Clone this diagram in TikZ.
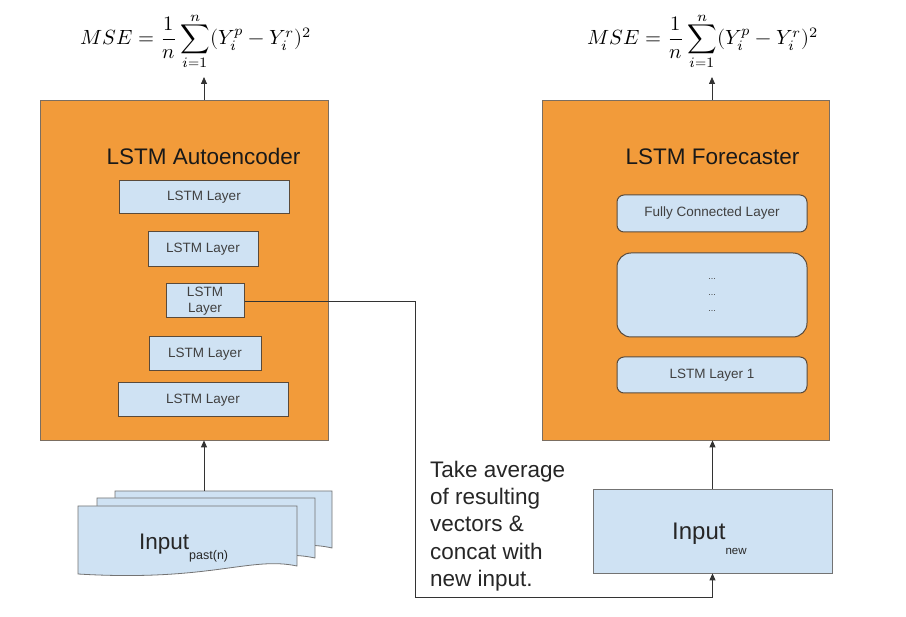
\documentclass[tikz,border=0pt]{standalone}
\usepackage{fontspec}
\setmainfont{Liberation Sans}
\usepackage{amsmath}
\usepackage{unicode-math}
\setmathfont{Latin Modern Math}
\usetikzlibrary{arrows.meta}
\definecolor{orng}{HTML}{F29B3A}
\definecolor{lblue}{HTML}{CFE2F3}
\definecolor{bord}{HTML}{5A4A3A}
\tikzset{
  big/.style={draw=bord!80, line width=0.8pt, fill=orng},
  layer/.style={draw=bord, line width=1pt, fill=lblue, font=\fontsize{13.5}{15}\selectfont, text=black!75, align=center, inner sep=0pt},
  rlayer/.style={layer, rounded corners=7pt},
  title/.style={font=\fontsize{22.5}{24}\selectfont, text=black!90},
  conn/.style={draw=black!80, line width=0.8pt},
  arr/.style={conn, -{Triangle[length=7pt,width=6pt]}},
  sheet/.style={draw=black!55, line width=0.8pt, fill=lblue},
  lbl/.style={text=black!85, inner sep=0pt},
}
\newcommand{\mseformula}{\resizebox{231pt}{!}{$MSE=\dfrac{1}{n}\displaystyle\sum_{i=1}^{n}(Y_i^p-Y_i^r)^2$}}
\begin{document}
\begin{tikzpicture}[x=1pt,y=-1pt]
\useasboundingbox (0,0) rectangle (906,617);
\fill[white] (0,0) rectangle (906,617);
% formulas
\node[inner sep=0pt] (f1) at (196,41) {\mseformula};
\node[inner sep=0pt] (f2) at (703,41) {\mseformula};
% big boxes
\node[big, minimum width=288pt, minimum height=340pt, inner sep=0pt] (ae) at (184,270) {};
\node[big, minimum width=287pt, minimum height=340pt, inner sep=0pt] (fc) at (685.5,270) {};
\node[title, anchor=base] (t1) at (203.5,165) {LSTM Autoencoder};
\node[title, anchor=base] (t2) at (712.5,165) {LSTM Forecaster};
% left layers
\node[layer, minimum width=170pt, minimum height=33pt] (l1) at (204,197) {LSTM Layer};
\node[layer, minimum width=110pt, minimum height=35pt] (l2) at (203,249.5) {LSTM Layer};
\node[layer, minimum width=78pt, minimum height=34pt, font=\fontsize{13.5}{16}\selectfont] (l3) at (205,301) {LSTM\\Layer};
\node[layer, minimum width=112pt, minimum height=34pt] (l4) at (205,354) {LSTM Layer};
\node[layer, minimum width=170pt, minimum height=34pt] (l5) at (203,400) {LSTM Layer};
% right layers
\node[rlayer, minimum width=190pt, minimum height=37pt] (r1) at (712,213.5) {Fully Connected Layer};
\node[rlayer, rounded corners=14pt, minimum width=190pt, minimum height=84pt, font=\fontsize{9}{16}\selectfont] (r2) at (712,295) {...\\...\\...};
\node[rlayer, minimum width=190pt, minimum height=36pt] (r3) at (712,375) {LSTM Layer 1};
% input past (stacked sheets)
\path[sheet] (115,491) -- (332,491) -- (332,548) .. controls (290,538) and (250,560) .. (115,552) -- cycle;
\path[sheet] (97,498) -- (315,498) -- (315,558) .. controls (270,548) and (230,570) .. (97,562) -- cycle;
\path[sheet] (78,506) -- (297,506) -- (297,566) .. controls (250,556) and (210,582) .. (78,574) -- cycle;
\node[lbl, anchor=base west, font=\fontsize{22.5}{24}\selectfont] (inp) at (139,550) {Input\raisebox{-10pt}{\fontsize{12.5}{13}\selectfont past(n)}};
\coordinate (inptop) at (204,491);
% input new
\node[draw=black!55, line width=0.8pt, fill=lblue, minimum width=239pt, minimum height=84pt, inner sep=0pt] (inn) at (712.5,531) {};
\node[lbl, anchor=base west, font=\fontsize{24}{26}\selectfont] (innt) at (672,540) {Input\raisebox{-15pt}{\fontsize{11.5}{12}\selectfont new}};
% text
\node[lbl, anchor=base west, align=left, font=\fontsize{22.5}{27.5}\selectfont] (txt) at (430,587) {Take average\\of resulting\\vectors \&\\concat with\\new input.};
% arrows
\coordinate (a1) at (204,100);
\coordinate (a2) at (712,100);
\draw[arr] (a1) -- ++(0,-23);
\draw[arr] (a2) -- ++(0,-23);
\draw[arr] (inptop) -- (inptop |- ae.south);
\draw[arr] (inn.north) -- (inn.north |- fc.south);
\coordinate (c1) at (415,301);
\coordinate (c2) at (415,597);
\draw[arr] (l3.east) -- (c1) -- (c2) -- (c2 -| inn.south) -- (inn.south);
\end{tikzpicture}
\end{document}
